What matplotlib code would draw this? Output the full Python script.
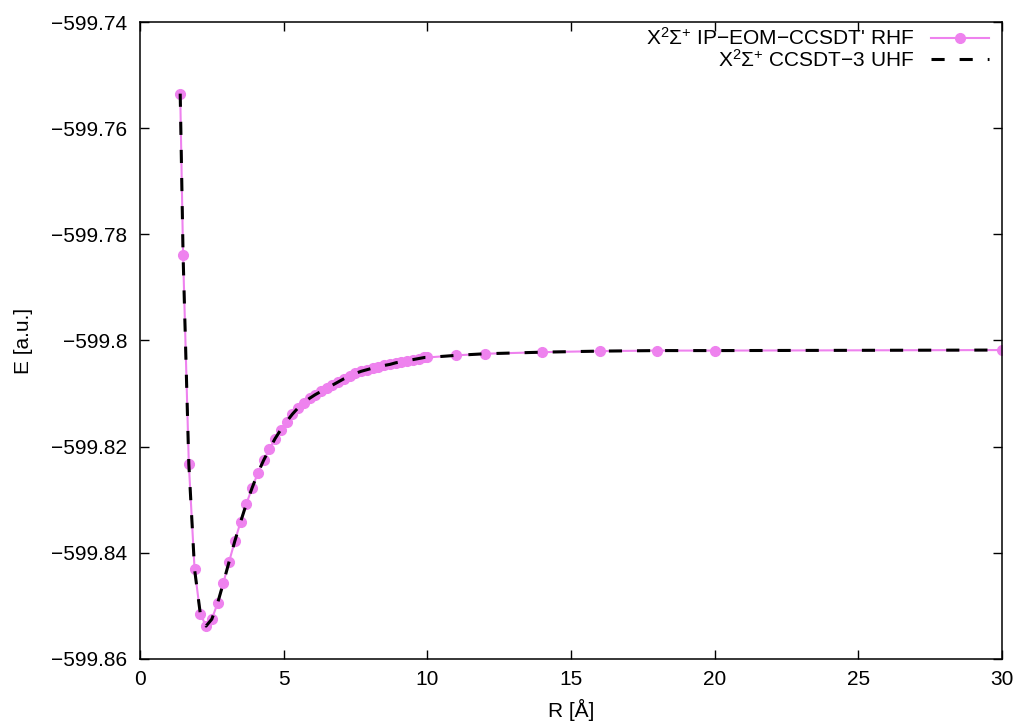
"""Potential energy curve, X2Sigma+ state: IP-EOM-CCSDT' RHF vs CCSDT-3 UHF."""

import matplotlib

matplotlib.use("Agg")
import matplotlib.pyplot as plt
from matplotlib.ticker import FuncFormatter

# bond length grid [Angstrom]
r_grid = [
    1.4, 1.5, 1.7, 1.9, 2.1, 2.3, 2.5, 2.7, 2.9, 3.1, 3.3, 3.5, 3.7, 3.9,
    4.1, 4.3, 4.5, 4.7, 4.9, 5.1, 5.3, 5.5, 5.7, 5.9, 6.1, 6.3, 6.5, 6.7,
    6.9, 7.1, 7.3, 7.5, 7.7, 7.9, 8.1, 8.3, 8.5, 8.7, 8.9, 9.1, 9.3, 9.5,
    9.7, 9.9, 10.0, 11.0, 12.0, 14.0, 16.0, 18.0, 20.0, 30.0,
]

# IP-EOM-CCSDT' (RHF reference) energies [a.u.]
e_ip_eom = [
    -599.7535, -599.7839, -599.8233, -599.8431, -599.8515, -599.8538,
    -599.8525, -599.8495, -599.8457, -599.8417, -599.8378, -599.8342,
    -599.8308, -599.8278, -599.8250, -599.8226, -599.8205, -599.8185,
    -599.8168, -599.8153, -599.8139, -599.8127, -599.8117, -599.8109,
    -599.8102, -599.8096, -599.8090, -599.8084, -599.8078, -599.8072,
    -599.8067, -599.8062, -599.8058, -599.8055, -599.8052, -599.8049,
    -599.8047, -599.8045, -599.8042, -599.8040, -599.8038, -599.8036,
    -599.8034, -599.8032, -599.8032, -599.8028, -599.8025, -599.8022,
    -599.8020, -599.8019, -599.8019, -599.8018,
]

# CCSDT-3 (UHF reference) energies [a.u.]
e_ccsdt3 = [
    -599.7535, -599.7839, -599.8233, -599.8431, -599.8515, -599.8538,
    -599.8525, -599.8495, -599.8457, -599.8417, -599.8378, -599.8342,
    -599.8308, -599.8278, -599.8250, -599.8226, -599.8205, -599.8185,
    -599.8168, -599.8153, -599.8139, -599.8127, -599.8117, -599.8109,
    -599.8102, -599.8096, -599.8090, -599.8084, -599.8078, -599.8072,
    -599.8067, -599.8062, -599.8058, -599.8055, -599.8052, -599.8049,
    -599.8047, -599.8045, -599.8042, -599.8040, -599.8038, -599.8036,
    -599.8034, -599.8032, -599.8032, -599.8028, -599.8025, -599.8022,
    -599.8020, -599.8019, -599.8019, -599.8018,
]

x_ticks = [0, 5, 10, 15, 20, 25, 30]
y_ticks = [-599.86, -599.84, -599.82, -599.80, -599.78, -599.76, -599.74]

plt.rcParams["font.family"] = ["Liberation Sans", "DejaVu Sans"]
plt.rcParams["mathtext.fontset"] = "custom"
plt.rcParams["mathtext.rm"] = "Liberation Sans"
plt.rcParams["mathtext.it"] = "Liberation Sans:italic"
plt.rcParams["axes.unicode_minus"] = True

fig = plt.figure(figsize=(10.18, 7.24), dpi=100)
ax = fig.add_axes([0.1375, 0.0898, 0.8468, 0.8798])

ax.plot(
    r_grid,
    e_ip_eom,
    color="violet",
    linewidth=1.5,
    marker="o",
    markersize=7,
    label=r"X$^{2}\Sigma^{+}$ IP−EOM−CCSDT' RHF",
)
ax.plot(
    r_grid,
    e_ccsdt3,
    color="black",
    linewidth=2.2,
    linestyle=(0, (4.3, 4.9)),
    label=r"X$^{2}\Sigma^{+}$ CCSDT−3 UHF",
)

ax.set_xlim(0, 30)
ax.set_ylim(-599.86, -599.74)
ax.set_xticks(x_ticks)
ax.set_yticks(y_ticks)
ax.yaxis.set_major_formatter(FuncFormatter(lambda v, _: f"{v:g}".replace("-", "−")))

ax.tick_params(
    direction="in", length=6.5, width=1, top=True, right=True,
    labelsize=15, colors="black",
)
ax.tick_params(axis="y", pad=9)
ax.tick_params(axis="x", pad=8)
for spine in ax.spines.values():
    spine.set_linewidth(1.1)

ax.set_xlabel("R [Å]", fontsize=15, labelpad=7)
ax.set_ylabel("E [a.u.]", fontsize=15, labelpad=13)

ax.legend(
    loc="upper right",
    bbox_to_anchor=(0.995, 1.005),
    markerfirst=False,
    frameon=False,
    fontsize=15,
    handlelength=2.8,
    handletextpad=0.8,
    labelspacing=-0.02,
    borderaxespad=0.0,
)

fig.savefig("out.png", dpi=100)
plt.close(fig)
